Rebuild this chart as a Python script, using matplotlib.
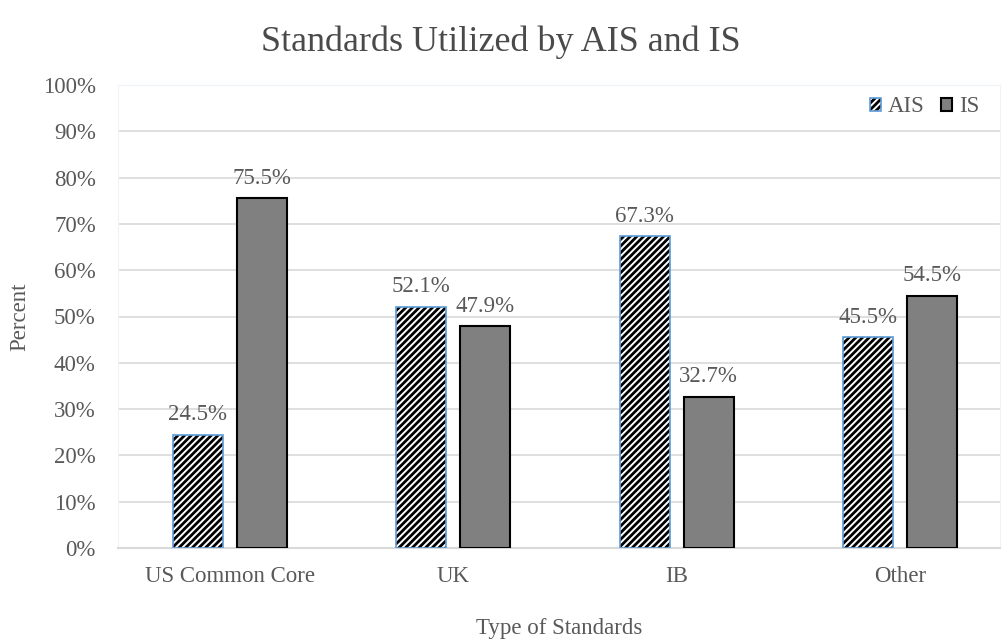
import matplotlib.pyplot as plt
from matplotlib.legend_handler import HandlerTuple
import numpy as np

categories = ["US Common Core", "UK", "IB", "Other"]
ais_values = [24.5, 52.1, 67.3, 45.5]
is_values = [75.5, 47.9, 32.7, 54.5]

text_color = "#595959"
plt.rcParams["font.family"] = ["Liberation Serif", "DejaVu Serif"]
plt.rcParams["hatch.linewidth"] = 2.0

fig = plt.figure(figsize=(10.02, 6.41), dpi=100)
ax = fig.add_axes([118 / 1002, (641 - 548) / 641, 882 / 1002, 463 / 641])

x = np.arange(len(categories))
offset = 0.143
width = 0.224

# hatched AIS bars, then a thin blue outline on top
ais_fill = ax.bar(x - offset, ais_values, width, color="white",
                  edgecolor="black", hatch="/////", linewidth=0, zorder=3)
ais_edge = ax.bar(x - offset, ais_values, width, color="none",
                  edgecolor="#5B9BD5", linewidth=1.2, zorder=4)
is_bars = ax.bar(x + offset, is_values, width, color="#808080",
                 edgecolor="black", linewidth=1.5, zorder=3)

for xi, v in zip(x - offset, ais_values):
    ax.annotate(f"{v:.1f}%", (xi, v), xytext=(0, 7), textcoords="offset points",
                ha="center", va="bottom", fontsize=16.5, color=text_color)
for xi, v in zip(x + offset, is_values):
    ax.annotate(f"{v:.1f}%", (xi, v), xytext=(0, 7), textcoords="offset points",
                ha="center", va="bottom", fontsize=16.5, color=text_color)

ax.set_xlim(-0.5, 3.446)
ax.set_ylim(0, 100)
ax.set_yticks(range(0, 101, 10))
ax.set_yticklabels([f"{v}%" for v in range(0, 101, 10)])
ax.set_xticks(x)
ax.set_xticklabels(categories)
ax.tick_params(axis="both", length=0, labelsize=16.5, labelcolor=text_color)
ax.tick_params(axis="y", pad=16)
ax.tick_params(axis="x", pad=13)

ax.grid(axis="y", color="#D9D9D9", linewidth=1.2, zorder=0)
ax.set_axisbelow(True)
for side in ["left", "top", "right"]:
    ax.spines[side].set_color("#EEF3FA")
ax.spines["bottom"].set_color("#D9D9D9")
ax.spines["bottom"].set_linewidth(1.5)

ax.set_ylabel("Percent", fontsize=16.5, color=text_color, labelpad=9)
ax.set_xlabel("Type of Standards", fontsize=16.5, color=text_color, labelpad=22)
fig.suptitle("Standards Utilized by AIS and IS", fontsize=26,
             color="#4A4A4A", y=0.96)

ax.legend([(ais_fill[0], ais_edge[0]), is_bars[0]], ["AIS", "IS"],
          handler_map={tuple: HandlerTuple(ndivide=1)},
          loc="upper right", bbox_to_anchor=(1.0, 1.02), ncol=2,
          frameon=False, fontsize=16.5, labelcolor=text_color,
          handlelength=0.5, handleheight=0.5, handletextpad=0.3,
          columnspacing=0.7)

fig.savefig("out.png", dpi=100)
plt.close(fig)
